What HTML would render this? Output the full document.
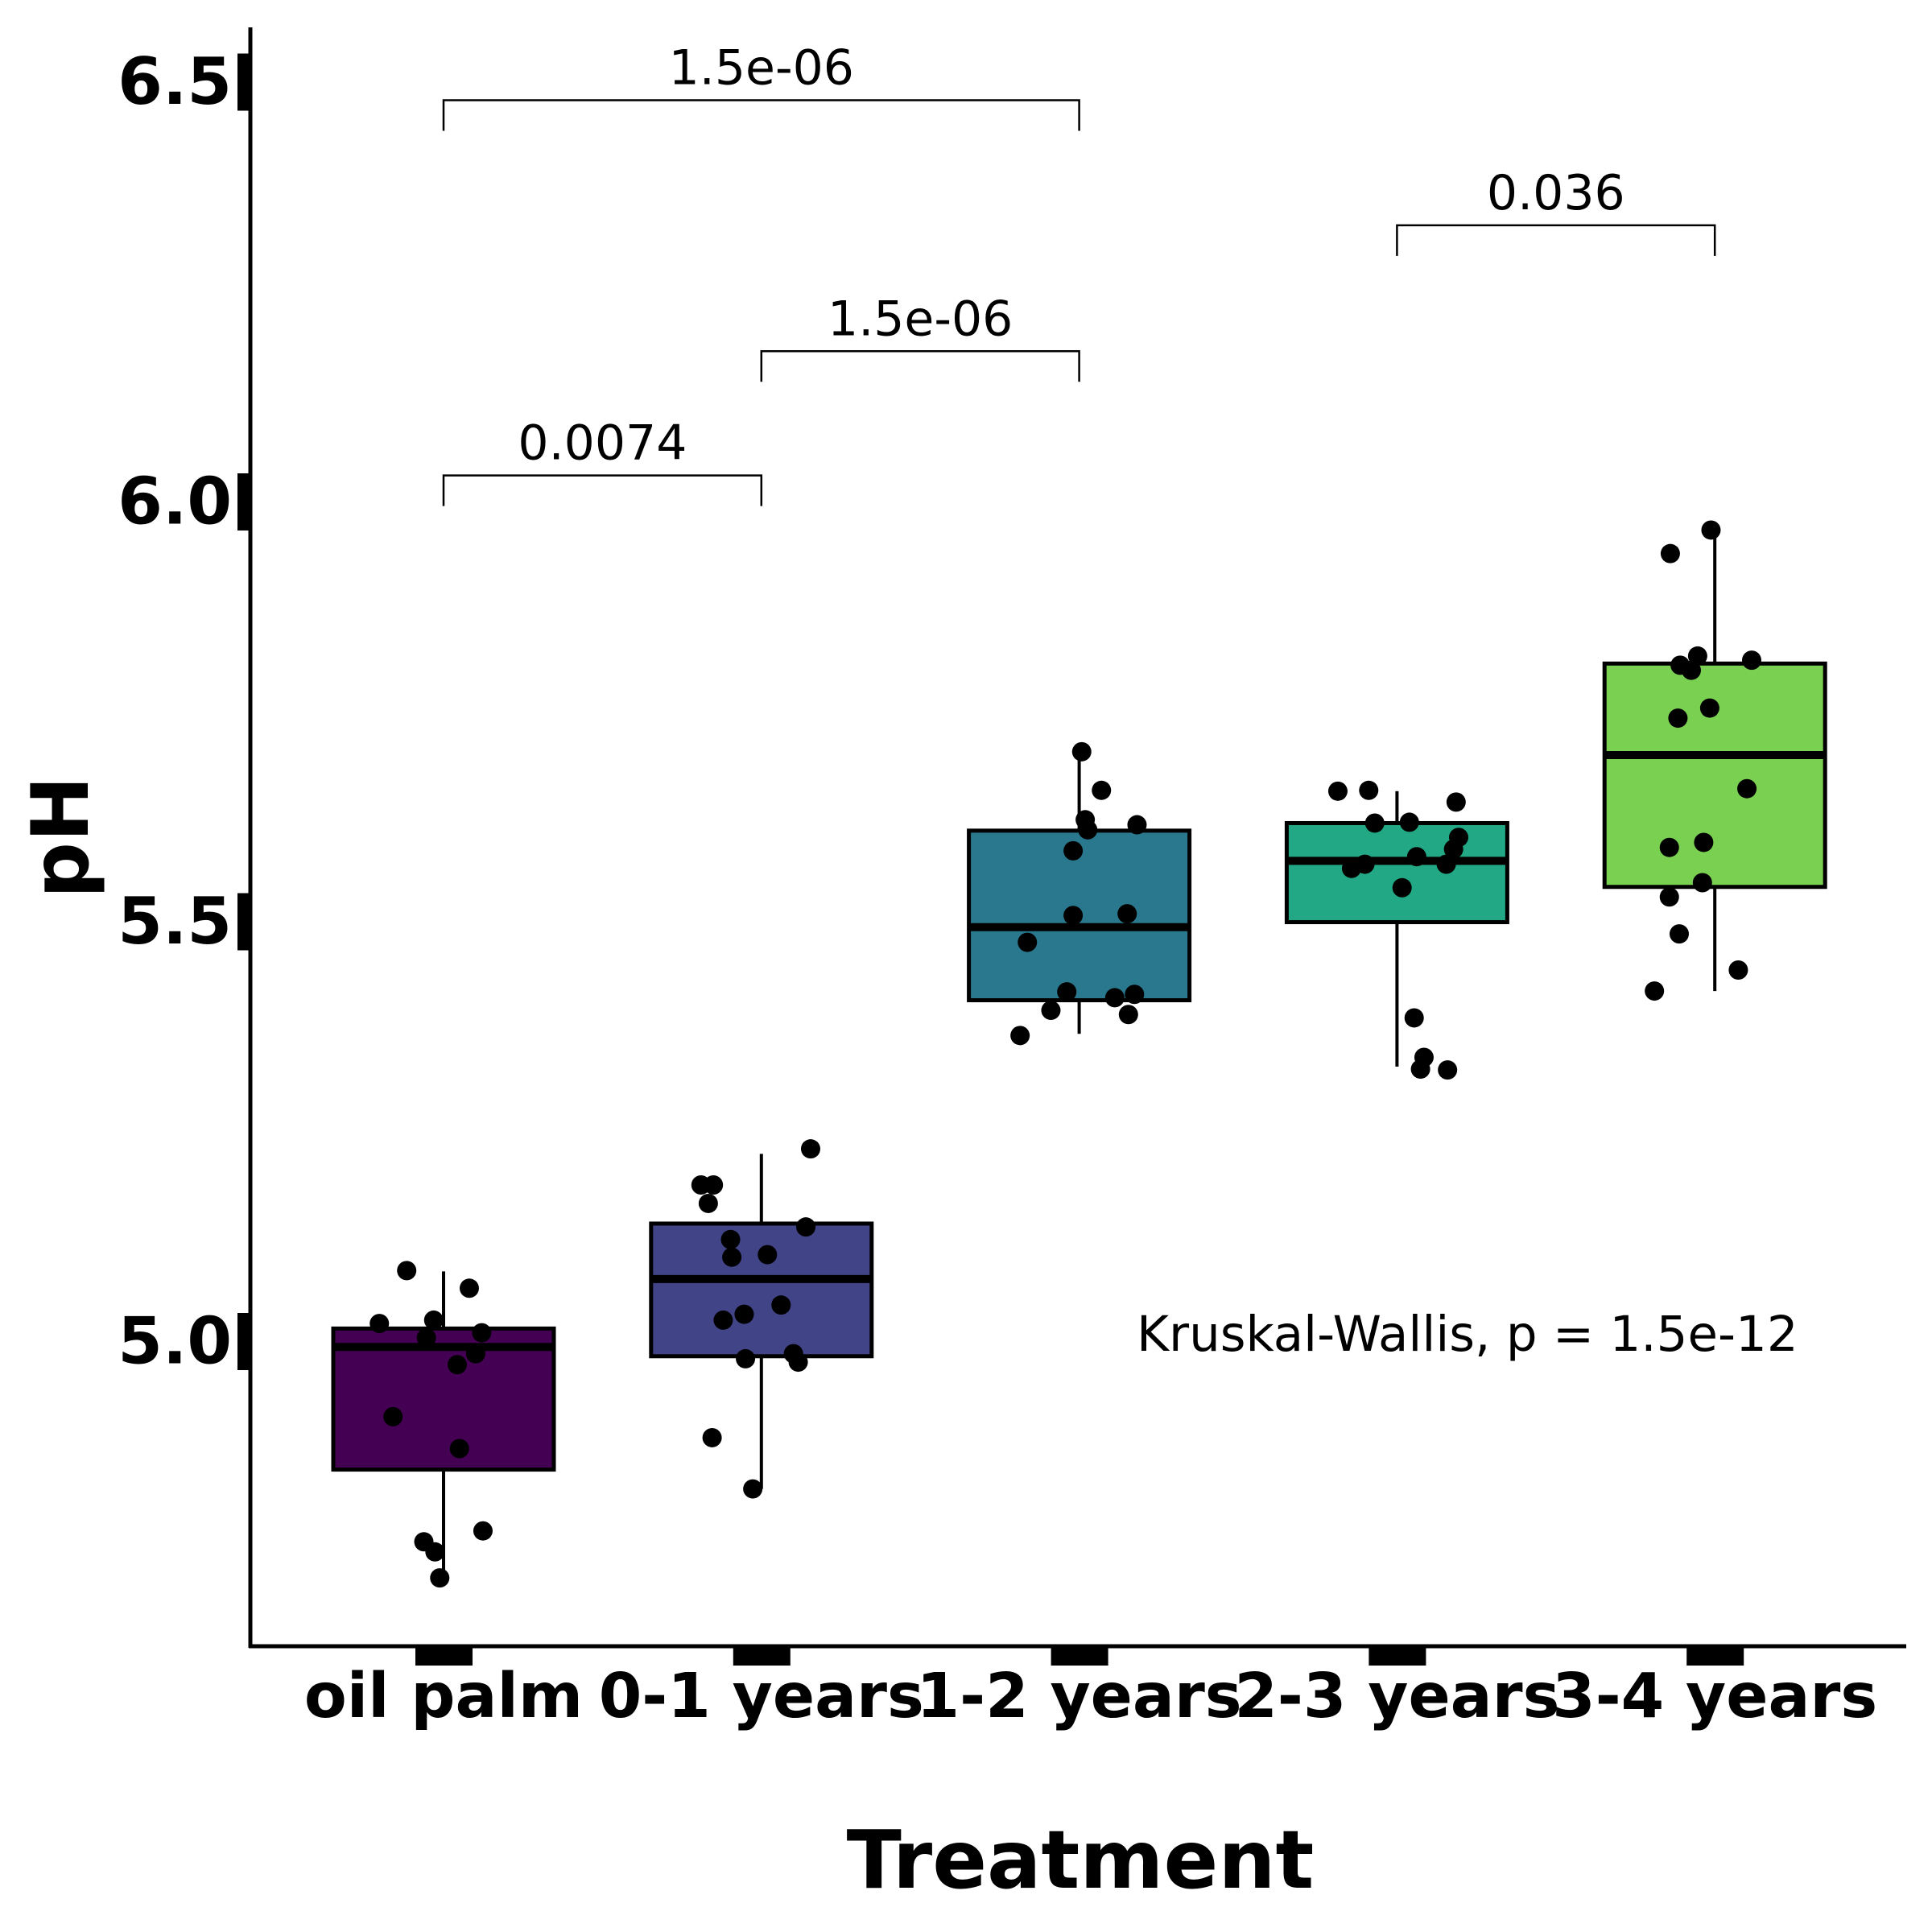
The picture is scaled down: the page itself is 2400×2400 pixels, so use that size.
<!DOCTYPE html>
<html><head><meta charset="utf-8"><style>html,body{margin:0;padding:0;background:#fff}svg{display:block}</style></head>
<body>
<svg id="chart" width="2400" height="2400" xmlns="http://www.w3.org/2000/svg" font-family="'DejaVu Sans','Liberation Sans',sans-serif"></svg>
<script>
const categories = ["oil palm","0-1 years","1-2 years","2-3 years","3-4 years"];
const fills = ["#440154","#414487","#2A788E","#22A884","#7AD151"];
const q1 = [4.847,4.982,5.406,5.499,5.541];
const medians = [4.993,5.074,5.493,5.572,5.698];
const q3 = [5.015,5.140,5.608,5.617,5.807];
const whiskerLow = [4.727,4.824,5.366,5.327,5.417];
const whiskerHigh = [5.083,5.223,5.701,5.655,5.966];
const pointValues = [
 [5.084,5.063,5.021,5.025,5.004,5.010,4.985,4.972,4.910,4.872,4.774,4.761,4.749,4.718],
 [5.229,5.186,5.186,5.164,5.136,5.121,5.100,5.103,5.032,5.043,5.025,4.979,4.985,4.975,4.885,4.824],
 [5.702,5.656,5.621,5.609,5.615,5.584,5.507,5.509,5.475,5.416,5.413,5.409,5.394,5.389,5.364],
 [5.655,5.656,5.617,5.618,5.642,5.600,5.586,5.577,5.568,5.563,5.568,5.540,5.385,5.338,5.324,5.323],
 [5.966,5.938,5.816,5.805,5.799,5.811,5.754,5.742,5.658,5.588,5.594,5.546,5.529,5.485,5.442,5.417]
];
const pointJitter = [
 [-0.116,0.081,-0.202,-0.031,-0.054,0.120,0.101,0.043,-0.159,0.050,0.124,-0.062,-0.027,-0.012],
 [0.155,-0.190,-0.151,-0.167,0.140,-0.097,-0.093,0.019,-0.054,0.062,-0.120,-0.050,0.101,0.116,-0.155,-0.027],
 [0.008,0.070,0.019,0.027,0.182,-0.019,-0.019,0.151,-0.163,-0.039,0.174,0.112,-0.089,0.155,-0.186],
 [-0.186,-0.089,-0.070,0.039,0.186,0.194,0.178,0.062,-0.101,-0.143,0.155,0.016,0.054,0.085,0.074,0.159],
 [-0.012,-0.140,-0.054,-0.109,-0.074,0.116,-0.016,-0.116,0.101,-0.143,-0.035,-0.039,-0.143,-0.112,0.074,-0.190]
];
const yTicks = [5.0,5.5,6.0,6.5];
const yTickLabels = ["5.0","5.5","6.0","6.5"];
const bracketFrom = [0,1,0,3];
const bracketTo = [2,2,1,4];
const bracketLevel = [6.478,6.179,6.031,6.329];
const bracketLabels = ["1.5e-06","1.5e-06","0.0074","0.036"];
const kruskalText = "Kruskal-Wallis, p = 1.5e-12";

const NS="http://www.w3.org/2000/svg";
const svg=document.getElementById('chart');
const STEP=394.8;
function yS(v){return 623-(v-6)*1043;}
function xS(i){return 551+i*STEP;}
function mk(tag,attrs,parent){const e=document.createElementNS(NS,tag);for(const k in attrs)e.setAttribute(k,attrs[k]);(parent||svg).appendChild(e);return e;}

let e;
e=mk('line',{x1:311,y1:34,x2:311,y2:2047,stroke:'#000','stroke-width':5});


e=mk('line',{x1:309,y1:2045,x2:2368,y2:2045,stroke:'#000','stroke-width':5});



yTicks.forEach((t,i)=>{
  const y=yS(t);
  e=mk('rect',{x:295,y:y-35,width:14,height:71,fill:'#000'});
  
  
  e=mk('text',{x:288,y:y,'text-anchor':'end','dominant-baseline':'central','font-size':80,'font-weight':'bold',fill:'#000'});
  e.textContent=yTickLabels[i];
  
  
});

categories.forEach((c,i)=>{
  const x=xS(i);
  e=mk('rect',{x:x-35,y:2047,width:71,height:22,fill:'#000'});
  
  
  e=mk('text',{x:x,y:2133,'text-anchor':'middle','font-size':77,'font-weight':'bold',fill:'#000'});
  e.textContent=c;
  
  
});

e=mk('text',{x:1342,y:2345,'text-anchor':'middle','font-size':100,'font-weight':'bold',fill:'#000'});
e.textContent='Treatment';


e=mk('text',{x:0,y:0,'text-anchor':'middle','dominant-baseline':'central','font-size':98,'font-weight':'bold',fill:'#000',transform:'translate(76,1040) rotate(-90)'});
e.textContent='pH';



categories.forEach((c,i)=>{
  const x=xS(i), hw=137;
  const g=mk('g',{});
  
  
  mk('line',{x1:x,y1:yS(whiskerHigh[i]),x2:x,y2:yS(q3[i]),stroke:'#000','stroke-width':4},g);
  mk('line',{x1:x,y1:yS(q1[i]),x2:x,y2:yS(whiskerLow[i]),stroke:'#000','stroke-width':4},g);
  mk('rect',{x:x-hw,y:yS(q3[i]),width:2*hw,height:yS(q1[i])-yS(q3[i]),fill:fills[i],stroke:'#000','stroke-width':5},g);
  mk('line',{x1:x-hw,y1:yS(medians[i]),x2:x+hw,y2:yS(medians[i]),stroke:'#000','stroke-width':10},g);
});

pointValues.forEach((arr,i)=>{
  arr.forEach((v,j)=>{
    e=mk('circle',{cx:xS(i)+pointJitter[i][j]*STEP,cy:yS(v),r:12,fill:'#000'});
    
    
  });
});

bracketLabels.forEach((lab,k)=>{
  const x1=xS(bracketFrom[k]), x2=xS(bracketTo[k]), y=yS(bracketLevel[k]);
  e=mk('path',{d:`M${x1},${y+38} L${x1},${y} L${x2},${y} L${x2},${y+38}`,fill:'none',stroke:'#000','stroke-width':2.5});
  
  
  e=mk('text',{x:(x1+x2)/2,y:y-20,'text-anchor':'middle','font-size':60,fill:'#000'});
  e.textContent=lab;
  
  
});

e=mk('text',{x:1412,y:1678,'font-size':61,fill:'#000'});
e.textContent=kruskalText;


</script>
</body></html>
